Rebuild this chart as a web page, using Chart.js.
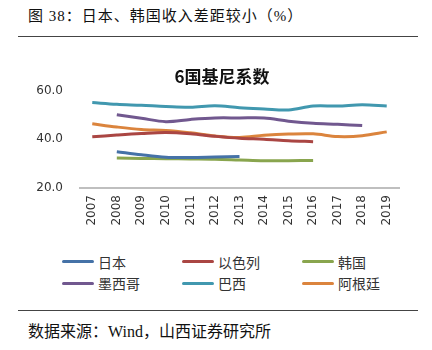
<!DOCTYPE html>
<html>
<head>
<meta charset="utf-8">
<script src="https://cdn.jsdelivr.net/npm/chart.js@4.4.1/dist/chart.umd.min.js"></script>
<style>
  body { margin: 0; width: 432px; height: 350px; background: #fff; position: relative; overflow: hidden; }
  .head { position: absolute; left: 28px; top: 4px; font: 15px "Liberation Serif", "Noto Sans CJK SC", serif; letter-spacing: 1px; color: #111; }
  .rule { position: absolute; left: 18px; width: 400px; height: 1px; background: #444; }
  .foot { position: absolute; left: 28px; top: 318px; font: 16px "Liberation Serif", "Noto Sans CJK SC", serif; color: #111; }
  #box { position: absolute; left: 0; top: 45px; width: 432px; height: 200px; }
  #legend { position: absolute; left: 62px; top: 251px; display: grid; grid-template-columns: 120px 120px 120px; row-gap: 0; }
  #legend div { height: 21.5px; display: flex; align-items: center; font: 14px "Noto Sans CJK SC", sans-serif; color: #333; }
  #legend span { display: inline-block; width: 32px; height: 3px; border-radius: 2px; margin-right: 4px; }
</style>
</head>
<body>
<div class="head">图 38：日本、韩国收入差距较小（%）</div>
<div class="rule" style="top:36px"></div>
<div id="box"><canvas id="giniChart"></canvas></div>
<div id="legend"></div>
<div class="rule" style="top:310px"></div>
<div class="foot">数据来源：Wind，山西证券研究所</div>
<script>
const years = ['2007', '2008', '2009', '2010', '2011', '2012', '2013', '2014', '2015', '2016', '2017', '2018', '2019'];
const yTicks = [20, 40, 60];

const japan = [null, 34.9, 33.6, 32.6, 32.5, 32.7, 32.9, null, null, null, null, null, null];
const israel = [41.0, 41.7, 42.3, 42.7, 42.2, 41.2, 40.4, 40.0, 39.4, 39.0, null, null, null];
const korea = [null, 32.3, 32.1, 32.0, 31.9, 31.8, 31.5, 31.2, 31.2, 31.3, null, null, null];
const mexico = [null, 50.0, 48.6, 47.2, 48.1, 48.7, 48.7, 48.7, 47.4, 46.5, 46.1, 45.6, null];
const brazil = [55.0, 54.3, 53.9, 53.4, 53.1, 53.7, 52.9, 52.4, 52.0, 53.6, 53.6, 54.1, 53.6];
const argentina = [46.3, 45.0, 44.0, 43.6, 42.6, 41.3, 40.7, 41.6, 42.1, 42.2, 41.1, 41.4, 43.0];

function line(label, data, color) {
    return {
        label: label,
        data: data,
        borderColor: color,
        backgroundColor: color,
        borderWidth: 3,
        pointRadius: 0,
        tension: 0.35,
        fill: false
    };
}

const ctx = document.getElementById('giniChart').getContext('2d');
const giniChart = new Chart(ctx, {
    type: 'line',
    data: {
        labels: years,
        datasets: [
            line('日本', japan, '#4572A7'),
            line('以色列', israel, '#AA4643'),
            line('韩国', korea, '#89A54E'),
            line('墨西哥', mexico, '#71588F'),
            line('巴西', brazil, '#4198AF'),
            line('阿根廷', argentina, '#DB843D')
        ]
    },
    options: {
        responsive: true,
        maintainAspectRatio: false,
        animation: false,
        layout: { padding: { left: 12, right: 0, top: 0, bottom: 0 } },
        plugins: {
            legend: { display: false },
            tooltip: { enabled: false },
            title: {
                display: true,
                text: '6国基尼系数',
                color: '#111',
                font: { family: '"Noto Sans CJK SC", sans-serif', size: 17, weight: 'bold' },
                padding: { top: 21, bottom: 4 }
            }
        },
        scales: {
            x: {
                offset: true,
                grid: { display: false, drawTicks: false },
                border: { display: true, color: '#BFBFBF', width: 2 },
                ticks: {
                    color: '#333',
                    font: { family: '"DejaVu Sans", sans-serif', size: 12 },
                    minRotation: 90,
                    maxRotation: 90,
                    padding: 7
                },
                afterFit: function(scale) { scale.height = 57; }
            },
            y: {
                min: 20,
                max: 60,
                grid: { display: false, drawTicks: false },
                border: { display: false },
                afterBuildTicks: function(scale) {
                    scale.ticks = yTicks.map(v => ({ value: v }));
                },
                ticks: {
                    color: '#333',
                    font: { family: '"DejaVu Sans", sans-serif', size: 12 },
                    padding: 17,
                    callback: function(value) { return Number(value).toFixed(1); }
                },
                afterFit: function(scale) { scale.width = 68; }
            },
            // empty right-hand axis, only there to leave the blank margin on the right
            yRight: {
                position: 'right',
                min: 20,
                max: 60,
                grid: { display: false, drawTicks: false },
                border: { display: false },
                ticks: { display: false },
                afterFit: function(scale) { scale.width = 33; }
            }
        }
    }
});

// legend laid out in 3 columns like the original
const legendBox = document.getElementById('legend');
giniChart.data.datasets.forEach(function(ds) {
    const item = document.createElement('div');
    item.innerHTML = '<span style="background:' + ds.borderColor + '"></span>' + ds.label;
    legendBox.appendChild(item);
});
</script>
</body>
</html>
